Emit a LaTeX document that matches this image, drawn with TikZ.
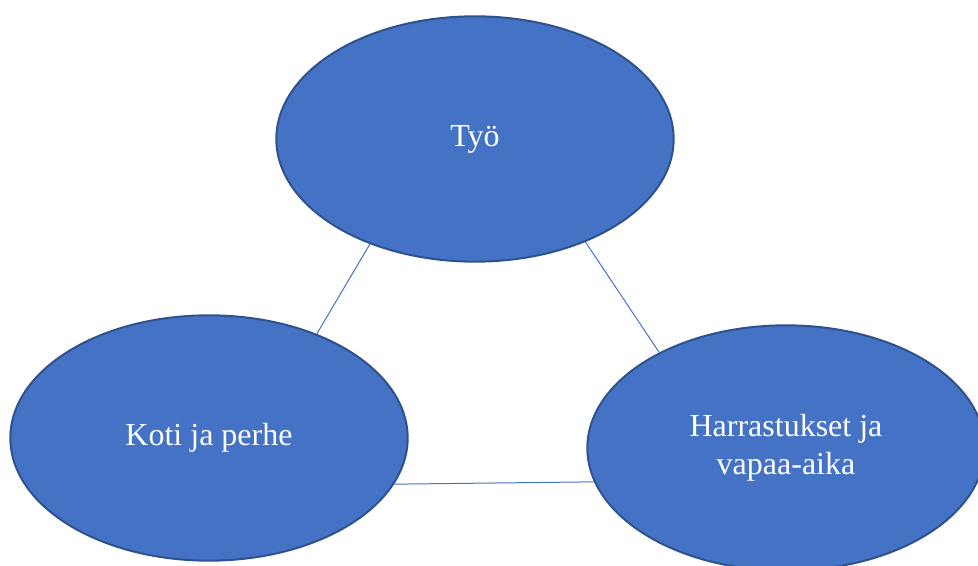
\documentclass[tikz,border=0pt]{standalone}
\usepackage{fontspec}
\setmainfont{Liberation Serif}
\usetikzlibrary{shapes.geometric}

\definecolor{officeblue}{HTML}{4472C4}
\definecolor{officeedge}{HTML}{2F528F}

\tikzset{every picture/.style={line width=0.75pt}}
\tikzset{area/.style={ellipse, draw=officeedge, line width=1.5pt, fill=officeblue, text=white,
    minimum width=298pt, minimum height=184pt, inner sep=0pt, align=center,
    font=\fontsize{24}{28.5}\selectfont}}

\begin{document}
\begin{tikzpicture}[x=0.75pt, y=0.75pt]
    \useasboundingbox (0,0) rectangle (978,566);
    \node[area] (tyo) at (475,427) {Työ};
    \node[area] (koti) at (209,128) {Koti ja perhe};
    \node[area] (vapaa) at (786,118) {Harrastukset ja\\vapaa-aika};
    \draw[color=officeblue] (tyo.225.5) -- (koti.44.5);
    \draw[color=officeblue] (tyo.317) -- (vapaa.143.8);
    \draw[color=officeblue] (koti.346.8) -- (vapaa.190.9);
\end{tikzpicture}
\end{document}
